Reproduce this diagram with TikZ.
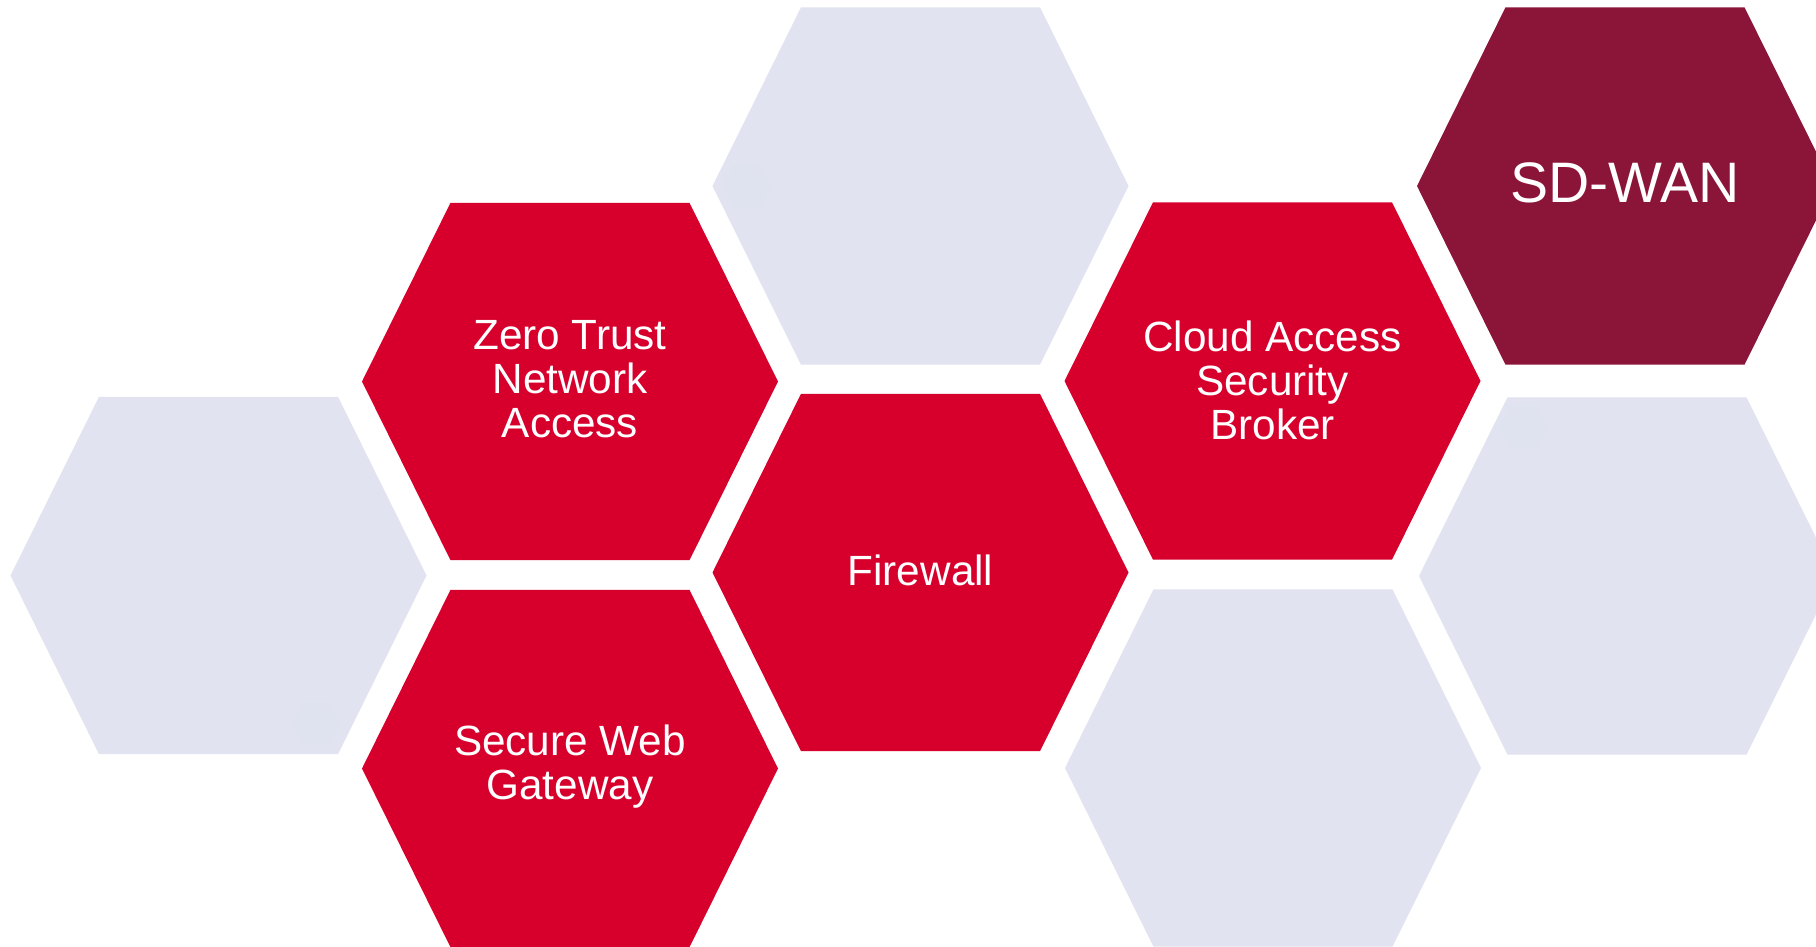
\documentclass[tikz,border=0pt]{standalone}
\usepackage{fontspec}
\setmainfont{Liberation Sans}
\definecolor{hexred}{HTML}{D7002D}
\definecolor{hexwine}{HTML}{8B1538}
\definecolor{hexgray}{HTML}{E1E4F0}
\definecolor{hexfaint}{HTML}{DCE0EE}
\tikzset{
  hexa/.pic={\fill[pic actions] (-208,0) -- (-119.5,178.7) -- (119.5,178.7) -- (208,0) -- (119.5,-178.7) -- (-119.5,-178.7) -- cycle;},
  minihex/.pic={\fill[pic actions] (-24,0) -- (-13,21) -- (13,21) -- (24,0) -- (13,-21) -- (-13,-21) -- cycle;},
  hexlabel/.style={text=white, align=center, font=\fontsize{31.7pt}{33pt}\selectfont, inner sep=0pt},
  biglabel/.style={text=white, align=center, font=\fontsize{42.8pt}{46pt}\selectfont, inner sep=0pt}
}
\begin{document}
\begin{tikzpicture}[x=0.75pt,y=-0.75pt]
\useasboundingbox (0,0) rectangle (1816,946);
\fill[white] (0,0) rectangle (1816,946);
\begin{scope}
\clip (0,0) rectangle (1816,946);
% gray hexagons
\pic[fill=hexgray] at (920.5,186) {hexa};
\pic[fill=hexgray] at (218.5,575.5) {hexa};
\pic[fill=hexgray] at (1627,576) {hexa};
\pic[fill=hexgray] at (1273,768) {hexa};
% faint marks
\pic[fill=hexfaint!50!hexgray] at (747,186) {minihex};
\pic[fill=hexfaint!50!hexgray] at (316,723) {minihex};
\pic[fill=hexfaint!30!hexgray] at (1523,427) {minihex};
% red hexagons
\pic[fill=hexred] at (570,381.5) {hexa};
\pic[fill=hexred] at (1272.5,381) {hexa};
\pic[fill=hexred] at (920.5,572.5) {hexa};
\pic[fill=hexred] at (570,768.5) {hexa};
% SD-WAN
\pic[fill=hexwine] at (1625,186) {hexa};
\end{scope}
% labels
\node[hexlabel] (ztna) at (570,379) {Zero Trust\\Network\\Access};
\node[hexlabel] (casb) at (1272.5,380) {Cloud Access\\Security\\Broker};
\node[hexlabel] (fw) at (920.5,570) {Firewall};
\node[hexlabel] (swg) at (570,767) {Secure Web\\Gateway};
\node[biglabel] (sdwan) at (1625,183) {SD-WAN};
\end{tikzpicture}
\end{document}
